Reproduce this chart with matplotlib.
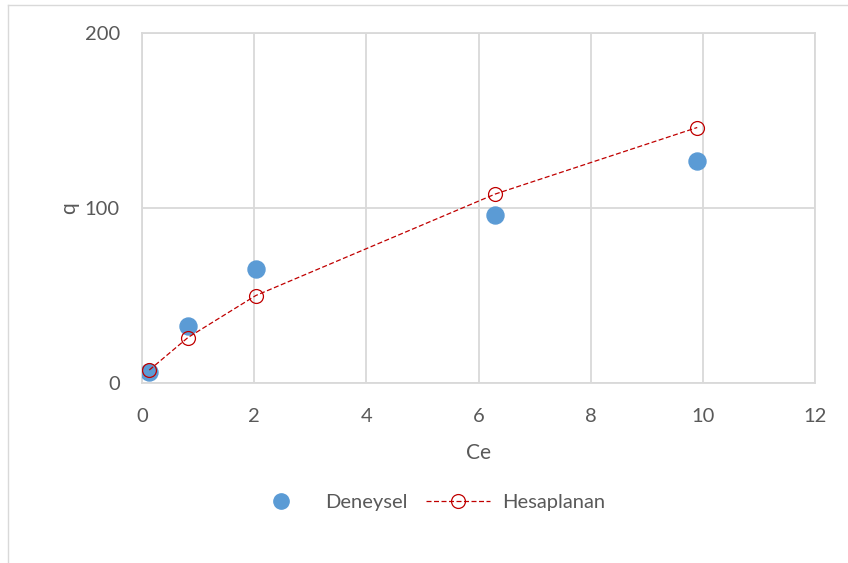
import matplotlib.pyplot as plt
from matplotlib.lines import Line2D

# deneysel veriler
ce_exp = [0.13, 0.82, 2.03, 6.3, 9.9]
q_exp = [6.3, 32.6, 65.0, 96.0, 127.0]

# hesaplanan (model)
ce_calc = [0.13, 0.82, 2.03, 6.3, 9.9]
q_calc = [7.4, 26.0, 50.0, 108.0, 146.0]

plt.rcParams['font.family'] = ['Lato', 'DejaVu Sans']
gray = '#595959'

fig = plt.figure(figsize=(8.48, 5.63), dpi=100)
ax = fig.add_axes([142/848, 1-383/563, (815-142)/848, (383-33)/563])

ax.scatter(ce_exp, q_exp, s=150, color='#5b9bd5', zorder=3, label='Deneysel')
ax.plot(ce_calc, q_calc, color='#c00000', lw=0.9, ls=(0, (4, 2)),
        marker='o', markersize=10, markerfacecolor='none', markeredgecolor='#c00000',
        markeredgewidth=0.9, zorder=4, label='Hesaplanan')

ax.set_xlim(0, 12)
ax.set_ylim(0, 200)
ax.set_xticks(range(0, 13, 2))
ax.set_yticks([0, 100, 200])
ax.grid(True, color='#d9d9d9', lw=1.3)
ax.set_axisbelow(True)
for s in ax.spines.values():
    s.set_color('#d9d9d9')
    s.set_linewidth(1.3)
ax.tick_params(length=0, labelsize=14.5, colors=gray)
ax.tick_params(axis='x', pad=18)
ax.tick_params(axis='y', pad=16)
ax.set_xlabel('Ce', fontsize=15, color=gray, labelpad=13)
ax.set_ylabel('q', fontsize=15, color=gray, labelpad=4)

handles = [Line2D([], [], ls='none', marker='o', markersize=11, color='#5b9bd5'),
           Line2D([], [], color='#c00000', lw=0.9, ls=(0, (4, 2)), marker='o', markersize=10,
                  markerfacecolor='none', markeredgewidth=0.9)]
leg = fig.legend(handles, ['Deneysel', 'Hesaplanan'], loc='center', bbox_to_anchor=(427/848, 1-502/563),
                 ncol=2, frameon=False, fontsize=14.5, handlelength=3.2, handletextpad=0.6,
                 columnspacing=0.9)
for t in leg.get_texts():
    t.set_color(gray)

# cerceve
fig.add_artist(Line2D([8/848, 8/848], [0, 1-5/563], transform=fig.transFigure, color='#d9d9d9', lw=1))
fig.add_artist(Line2D([8/848, 1], [1-5/563, 1-5/563], transform=fig.transFigure, color='#d9d9d9', lw=1))

fig.savefig('out.png', dpi=100)
